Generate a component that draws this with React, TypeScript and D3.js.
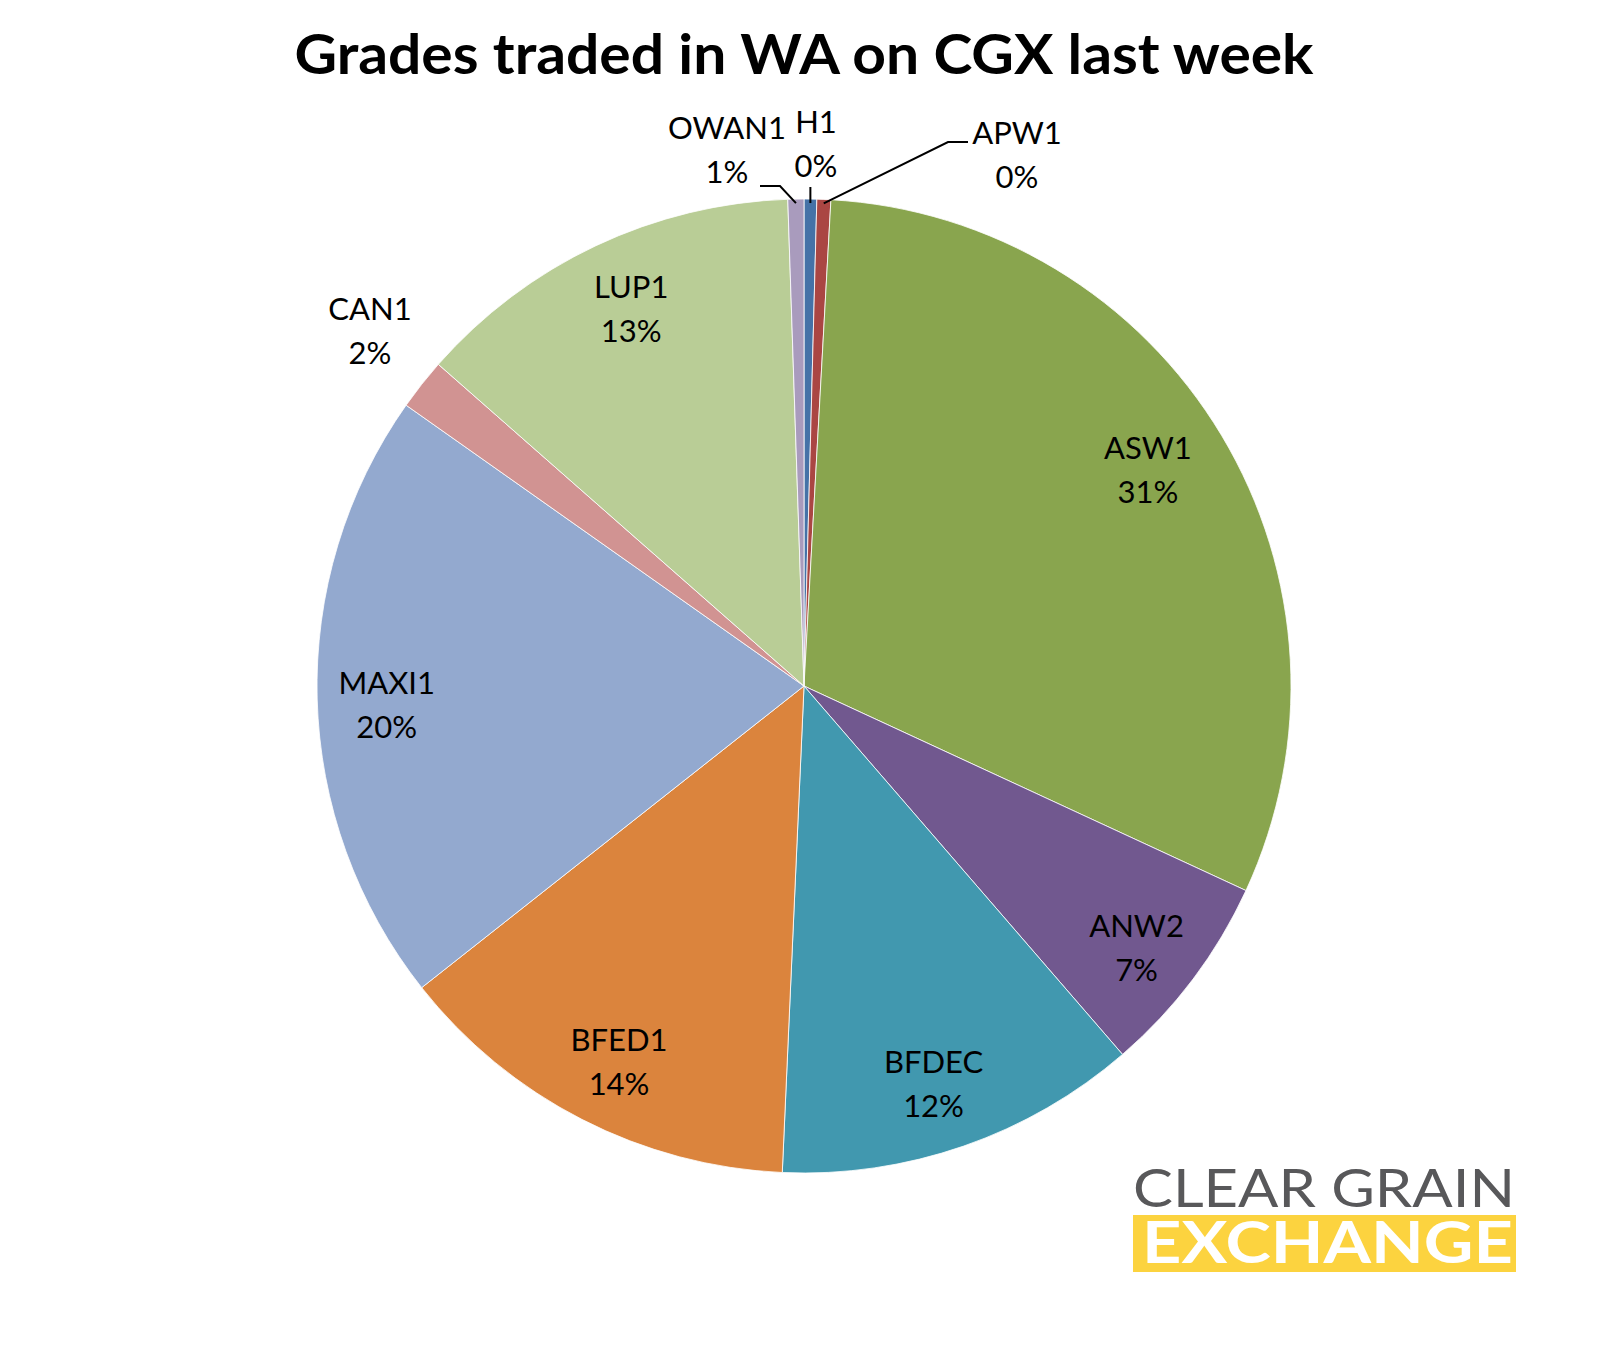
import React, { useEffect } from 'react';
import * as d3 from 'd3';

// ---- data ----
const categories = ['H1', 'APW1', 'ASW1', 'ANW2', 'BFDEC', 'BFED1', 'MAXI1', 'CAN1', 'LUP1', 'OWAN1'];
const shares = [0.42, 0.46, 31.0, 6.75, 12.05, 13.65, 20.4, 1.7, 12.98, 0.53];
const sliceColors = ['#4572A7', '#AA4643', '#89A54E', '#71588F', '#4198AF', '#DB843D', '#93A9CF', '#D19392', '#B9CD96', '#A99BBD'];
const chartTitle = 'Grades traded in WA on CGX last week';
const logoTop = 'CLEAR GRAIN';
const logoBottom = 'EXCHANGE';

// ---- layout ----
const W = 1608;
const H = 1352;
const CX = 804;
const CY = 686;
const R = 487;
const FONT = 'Lato, "Open Sans", "DejaVu Sans", sans-serif';
const LABEL_SIZE = 31;
const LINE_GAP = 44;

// nudges for the inside labels (pixels)
const insideNudge: Record<string, [number, number]> = {
  ASW1: [-13, -2],
  ANW2: [0, 11],
  BFDEC: [-7, 5],
  BFED1: [5, 5],
  MAXI1: [-1, 8],
  LUP1: [5, -1],
};
// outside labels: block centre and leader-line points on the label side
const outsideLabels: Record<string, { x: number; y: number; leader?: [number, number][] }> = {
  CAN1: { x: 370, y: 331 },
  OWAN1: { x: 727, y: 150, leader: [[760, 186], [780, 186]] },
  H1: { x: 816, y: 144, leader: [[0, 187]] },
  APW1: { x: 1017, y: 155, leader: [[968, 142], [948, 142]] },
};

export default function App() {
  useEffect(() => {
    document.body.style.margin = '0';
  }, []);

  const total = d3.sum(shares);
  const pie = d3.pie<number>().sort(null).value((d) => d).startAngle(0).endAngle(Math.PI * 2);
  const arcs = pie(shares);
  const arcGen = d3.arc<d3.PieArcDatum<number>>().innerRadius(0).outerRadius(R);
  const labelArc = d3.arc<d3.PieArcDatum<number>>().innerRadius(R * 0.855).outerRadius(R * 0.855);
  const edgeArc = d3.arc<d3.PieArcDatum<number>>().innerRadius(R - 4).outerRadius(R - 4);
  const pct = (v: number) => `${Math.round((v / total) * 100)}%`;
  const capHalf = LABEL_SIZE * 0.358;

  const labelBlock = (key: string, x: number, y: number, name: string, p: string) => (
    <g key={key}>
      <text x={x} y={y - LINE_GAP / 2 + capHalf} textAnchor="middle" fontFamily={FONT} fontSize={LABEL_SIZE} fill="#000">
        {name}
      </text>
      <text x={x} y={y + LINE_GAP / 2 + capHalf} textAnchor="middle" fontFamily={FONT} fontSize={LABEL_SIZE} fill="#000">
        {p}
      </text>
    </g>
  );

  return (
    <svg width={W} height={H} viewBox={`0 0 ${W} ${H}`} style={{ display: 'block', background: '#fff' }}>
      <rect width={W} height={H} fill="#fff" />
      <text
        x={W / 2}
        y={74}
        textAnchor="middle"
        fontFamily={FONT}
        fontWeight={700}
        fontSize={56}
        textLength={1019}
        lengthAdjust="spacingAndGlyphs"
        fill="#000"
      >
        {chartTitle}
      </text>

      <g transform={`translate(${CX},${CY})`}>
        {arcs.map((a, i) => (
          <path key={categories[i]} d={arcGen(a) || ''} fill={sliceColors[i]} stroke="#fff" strokeWidth={0.8} />
        ))}
      </g>

      {arcs.map((a, i) => {
        const name = categories[i];
        const out = outsideLabels[name];
        if (out) {
          const [ex, ey] = edgeArc.centroid(a);
          const end: [number, number] = [CX + ex, CY + ey];
          let pts: [number, number][] = [];
          if (out.leader) {
            pts = out.leader.map((p) => (p[0] === 0 ? [end[0], p[1]] : p) as [number, number]);
            pts.push(end);
          }
          return (
            <g key={name}>
              {pts.length > 0 && (
                <polyline points={pts.map((p) => p.join(',')).join(' ')} fill="none" stroke="#000" strokeWidth={2} />
              )}
              {labelBlock(name + 'l', out.x, out.y, name, pct(shares[i]))}
            </g>
          );
        }
        const [lx, ly] = labelArc.centroid(a);
        const nd = insideNudge[name] || [0, 0];
        return labelBlock(name, CX + lx + nd[0], CY + ly + nd[1], name, pct(shares[i]));
      })}

      {/* logo */}
      <text
        x={1133}
        y={1207}
        fontFamily={FONT}
        fontWeight={400}
        fontSize={53}
        textLength={382}
        lengthAdjust="spacingAndGlyphs"
        fill="#58585A"
      >
        {logoTop}
      </text>
      <rect x={1133} y={1215} width={383} height={57} fill="#FCD33F" />
      <text
        x={1142}
        y={1263}
        fontFamily={FONT}
        fontWeight={700}
        fontSize={58}
        textLength={371}
        lengthAdjust="spacingAndGlyphs"
        fill="#fff"
      >
        {logoBottom}
      </text>
    </svg>
  );
}
